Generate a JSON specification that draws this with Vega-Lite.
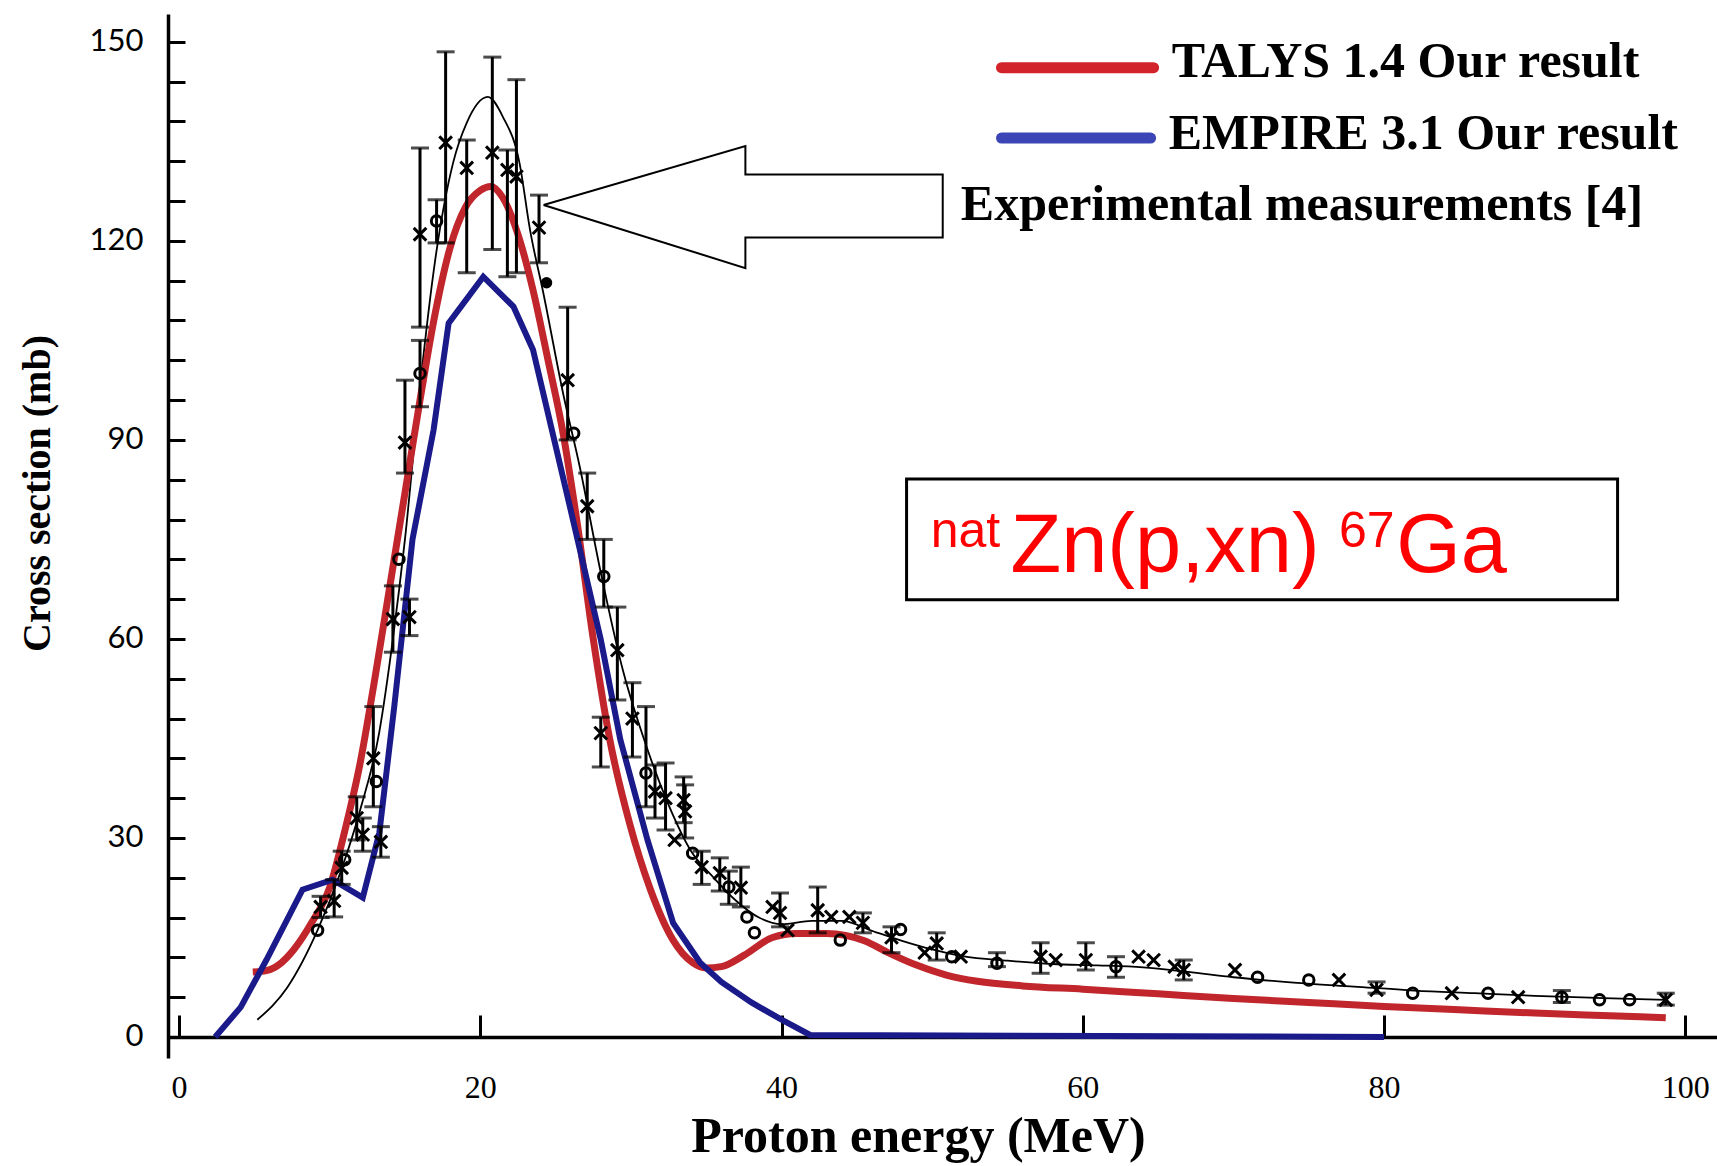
{
  "$schema": "https://vega.github.io/schema/vega-lite/v6.json",
  "width": 1549,
  "height": 1044,
  "autosize": {"type": "none"},
  "padding": {"left": 168, "top": 14, "right": 0, "bottom": 108},
  "background": "white",
  "config": {"view": {"stroke": null}},
  "datasets": {
    "fit": [
      {"E": 5.2, "cs": 2.6}, {"E": 7.2, "cs": 7.5}, {"E": 9.2, "cs": 16.1}, {"E": 10.7, "cs": 24.7},
      {"E": 12.0, "cs": 34.0}, {"E": 13.3, "cs": 46.0}, {"E": 14.2, "cs": 60.0}, {"E": 15.0, "cs": 75.0},
      {"E": 16.0, "cs": 98.0}, {"E": 17.0, "cs": 117.0}, {"E": 18.2, "cs": 131.8}, {"E": 19.1, "cs": 137.8},
      {"E": 20.5, "cs": 141.7}, {"E": 21.5, "cs": 138.7}, {"E": 22.6, "cs": 131.8}, {"E": 23.3, "cs": 121.7},
      {"E": 24.2, "cs": 112.0}, {"E": 25.5, "cs": 97.0}, {"E": 26.6, "cs": 86.0}, {"E": 28.0, "cs": 70.0},
      {"E": 29.5, "cs": 55.0}, {"E": 31.0, "cs": 44.0}, {"E": 32.5, "cs": 35.0}, {"E": 34.0, "cs": 28.0},
      {"E": 35.5, "cs": 24.0}, {"E": 37.0, "cs": 20.5}, {"E": 38.5, "cs": 18.0}, {"E": 40.0, "cs": 17.0},
      {"E": 42.0, "cs": 17.5}, {"E": 44.0, "cs": 17.5}, {"E": 46.0, "cs": 16.0}, {"E": 48.0, "cs": 14.5},
      {"E": 50.0, "cs": 13.2}, {"E": 52.0, "cs": 12.2}, {"E": 55.0, "cs": 11.5}, {"E": 58.0, "cs": 11.0},
      {"E": 61.0, "cs": 10.8}, {"E": 64.0, "cs": 10.5}, {"E": 67.0, "cs": 9.8}, {"E": 70.0, "cs": 9.0},
      {"E": 74.0, "cs": 8.2}, {"E": 78.0, "cs": 7.6}, {"E": 82.0, "cs": 7.0}, {"E": 86.0, "cs": 6.6},
      {"E": 90.0, "cs": 6.2}, {"E": 94.0, "cs": 5.9}, {"E": 98.7, "cs": 5.6}
    ],
    "talys": [
      {"E": 4.9, "cs": 9.8}, {"E": 5.8, "cs": 10.0}, {"E": 6.8, "cs": 11.2}, {"E": 7.6, "cs": 13.1},
      {"E": 8.8, "cs": 17.2}, {"E": 10.0, "cs": 22.5}, {"E": 11.0, "cs": 31.0}, {"E": 12.0, "cs": 41.0},
      {"E": 13.0, "cs": 54.0}, {"E": 14.0, "cs": 68.0}, {"E": 15.0, "cs": 82.0}, {"E": 16.0, "cs": 96.0},
      {"E": 17.0, "cs": 109.0}, {"E": 18.0, "cs": 119.0}, {"E": 19.0, "cs": 125.0}, {"E": 20.0, "cs": 127.6},
      {"E": 20.7, "cs": 128.2}, {"E": 21.5, "cs": 126.5}, {"E": 22.5, "cs": 121.0}, {"E": 23.5, "cs": 112.6},
      {"E": 24.5, "cs": 102.0}, {"E": 25.5, "cs": 91.0}, {"E": 26.4, "cs": 78.0}, {"E": 27.5, "cs": 60.0},
      {"E": 28.6, "cs": 44.8}, {"E": 29.9, "cs": 32.3}, {"E": 31.3, "cs": 22.2}, {"E": 32.8, "cs": 14.6},
      {"E": 34.1, "cs": 11.2}, {"E": 35.0, "cs": 10.4}, {"E": 36.0, "cs": 10.6}, {"E": 37.5, "cs": 12.3},
      {"E": 39.4, "cs": 15.0}, {"E": 41.0, "cs": 15.6}, {"E": 43.0, "cs": 15.6}, {"E": 45.5, "cs": 14.5},
      {"E": 47.0, "cs": 12.8}, {"E": 49.0, "cs": 10.8}, {"E": 51.0, "cs": 9.3}, {"E": 53.0, "cs": 8.4},
      {"E": 56.0, "cs": 7.7}, {"E": 60.0, "cs": 7.2}, {"E": 65.0, "cs": 6.5}, {"E": 70.0, "cs": 5.8},
      {"E": 75.0, "cs": 5.2}, {"E": 80.0, "cs": 4.6}, {"E": 85.0, "cs": 4.1}, {"E": 90.0, "cs": 3.6},
      {"E": 95.0, "cs": 3.2}, {"E": 98.7, "cs": 2.9}
    ],
    "empire": [
      {"E": 2.4, "cs": 0.0}, {"E": 4.1, "cs": 4.5}, {"E": 5.8, "cs": 11.6}, {"E": 8.2, "cs": 22.2},
      {"E": 10.2, "cs": 23.7}, {"E": 12.2, "cs": 21.0}, {"E": 13.3, "cs": 30.8}, {"E": 14.3, "cs": 50.0},
      {"E": 15.5, "cs": 75.0}, {"E": 16.9, "cs": 91.5}, {"E": 17.9, "cs": 107.6}, {"E": 20.2, "cs": 114.6},
      {"E": 22.2, "cs": 110.1}, {"E": 23.5, "cs": 103.6}, {"E": 25.8, "cs": 81.4}, {"E": 28.0, "cs": 59.9},
      {"E": 29.3, "cs": 44.8}, {"E": 31.1, "cs": 29.7}, {"E": 32.8, "cs": 17.2}, {"E": 34.6, "cs": 11.2},
      {"E": 36.0, "cs": 8.3}, {"E": 38.0, "cs": 5.2}, {"E": 40.0, "cs": 2.6}, {"E": 41.9, "cs": 0.3},
      {"E": 80.0, "cs": 0.0}
    ],
    "exp": [
      {"E": 9.2, "cs": 16.1, "sym": "o"},
      {"E": 9.4, "cs": 19.6, "lo": 18.0, "hi": 21.2, "sym": "x"},
      {"E": 10.3, "cs": 20.5, "lo": 18.1, "hi": 23.7, "sym": "x"},
      {"E": 10.8, "cs": 25.5, "lo": 23.0, "hi": 28.0, "sym": "x"},
      {"E": 11.0, "cs": 26.7, "sym": "o"},
      {"E": 11.8, "cs": 33.0, "lo": 29.7, "hi": 36.2, "sym": "x"},
      {"E": 12.2, "cs": 30.5, "lo": 28.0, "hi": 33.0, "sym": "x"},
      {"E": 12.9, "cs": 42.0, "lo": 34.7, "hi": 49.8, "sym": "x"},
      {"E": 13.4, "cs": 29.4, "lo": 27.1, "hi": 31.7, "sym": "x"},
      {"E": 13.1, "cs": 38.5, "sym": "o"},
      {"E": 14.2, "cs": 63.0, "lo": 58.0, "hi": 68.0, "sym": "x"},
      {"E": 15.3, "cs": 63.3, "lo": 60.5, "hi": 66.0, "sym": "x"},
      {"E": 14.6, "cs": 72.0, "sym": "o"},
      {"E": 15.0, "cs": 89.6, "lo": 85.0, "hi": 99.0, "sym": "x"},
      {"E": 16.0, "cs": 100.0, "lo": 95.0, "hi": 105.0, "sym": "o"},
      {"E": 16.0, "cs": 121.0, "lo": 107.0, "hi": 134.0, "sym": "x"},
      {"E": 17.1, "cs": 123.0, "lo": 119.7, "hi": 126.2, "sym": "o"},
      {"E": 17.7, "cs": 134.8, "lo": 119.7, "hi": 148.5, "sym": "x"},
      {"E": 19.1, "cs": 131.0, "lo": 115.2, "hi": 135.2, "sym": "x"},
      {"E": 20.8, "cs": 133.3, "lo": 118.7, "hi": 147.7, "sym": "x"},
      {"E": 21.8, "cs": 130.7, "lo": 114.6, "hi": 133.7, "sym": "x"},
      {"E": 22.4, "cs": 129.7, "lo": 115.2, "hi": 144.3, "sym": "x"},
      {"E": 23.9, "cs": 122.0, "lo": 116.7, "hi": 126.9, "sym": "x"},
      {"E": 24.4, "cs": 113.7, "sym": "dot"},
      {"E": 25.8, "cs": 99.0, "lo": 90.0, "hi": 110.0, "sym": "x"},
      {"E": 26.2, "cs": 91.0, "sym": "o"},
      {"E": 27.1, "cs": 80.0, "lo": 75.0, "hi": 85.0, "sym": "x"},
      {"E": 28.2, "cs": 69.4, "lo": 64.8, "hi": 75.0, "sym": "o"},
      {"E": 29.1, "cs": 58.3, "lo": 50.8, "hi": 64.8, "sym": "x"},
      {"E": 28.0, "cs": 45.8, "lo": 40.7, "hi": 48.2, "sym": "x"},
      {"E": 30.1, "cs": 48.0, "lo": 42.2, "hi": 53.4, "sym": "x"},
      {"E": 31.0, "cs": 39.8, "lo": 34.7, "hi": 49.8, "sym": "o"},
      {"E": 31.6, "cs": 37.0, "lo": 33.0, "hi": 41.0, "sym": "x"},
      {"E": 32.3, "cs": 36.0, "lo": 31.2, "hi": 41.3, "sym": "x"},
      {"E": 32.9, "cs": 29.7, "sym": "x"},
      {"E": 33.5, "cs": 35.7, "lo": 32.3, "hi": 39.2, "sym": "x"},
      {"E": 33.6, "cs": 34.0, "lo": 30.0, "hi": 38.0, "sym": "x"},
      {"E": 34.1, "cs": 27.7, "sym": "o"},
      {"E": 34.7, "cs": 25.6, "lo": 23.0, "hi": 28.0, "sym": "x"},
      {"E": 35.9, "cs": 24.7, "lo": 22.0, "hi": 27.0, "sym": "x"},
      {"E": 36.5, "cs": 22.6, "lo": 20.0, "hi": 25.0, "sym": "o"},
      {"E": 37.3, "cs": 22.5, "lo": 19.6, "hi": 25.6, "sym": "x"},
      {"E": 37.7, "cs": 18.1, "sym": "o"},
      {"E": 38.2, "cs": 15.7, "sym": "o"},
      {"E": 39.4, "cs": 19.6, "sym": "x"},
      {"E": 39.9, "cs": 18.7, "lo": 16.6, "hi": 21.7, "sym": "x"},
      {"E": 40.4, "cs": 16.1, "sym": "dash"},
      {"E": 42.4, "cs": 19.1, "lo": 15.7, "hi": 22.6, "sym": "x"},
      {"E": 43.3, "cs": 18.1, "sym": "x"},
      {"E": 43.9, "cs": 14.6, "sym": "o"},
      {"E": 44.5, "cs": 18.1, "sym": "x"},
      {"E": 45.4, "cs": 17.2, "lo": 15.7, "hi": 18.7, "sym": "x"},
      {"E": 47.3, "cs": 15.0, "lo": 12.7, "hi": 16.6, "sym": "x"},
      {"E": 47.9, "cs": 16.2, "sym": "o"},
      {"E": 49.5, "cs": 12.7, "sym": "x"},
      {"E": 50.3, "cs": 14.1, "lo": 11.6, "hi": 15.7, "sym": "x"},
      {"E": 51.3, "cs": 12.1, "sym": "o"},
      {"E": 51.9, "cs": 12.1, "sym": "x"},
      {"E": 54.3, "cs": 11.1, "lo": 10.6, "hi": 12.7, "sym": "o"},
      {"E": 57.2, "cs": 12.1, "lo": 9.6, "hi": 14.2, "sym": "x"},
      {"E": 58.2, "cs": 11.6, "sym": "x"},
      {"E": 60.2, "cs": 11.6, "lo": 10.1, "hi": 14.2, "sym": "x"},
      {"E": 62.2, "cs": 10.6, "lo": 9.0, "hi": 12.1, "sym": "o"},
      {"E": 63.7, "cs": 12.1, "sym": "x"},
      {"E": 64.7, "cs": 11.6, "sym": "x"},
      {"E": 66.1, "cs": 10.6, "sym": "x"},
      {"E": 66.7, "cs": 10.1, "lo": 8.6, "hi": 11.6, "sym": "x"},
      {"E": 70.1, "cs": 10.1, "sym": "x"},
      {"E": 71.6, "cs": 9.0, "sym": "o"},
      {"E": 75.0, "cs": 8.6, "sym": "o"},
      {"E": 77.0, "cs": 8.6, "sym": "x"},
      {"E": 79.5, "cs": 7.1, "lo": 6.6, "hi": 8.3, "sym": "x"},
      {"E": 81.9, "cs": 6.6, "sym": "o"},
      {"E": 84.5, "cs": 6.6, "sym": "x"},
      {"E": 86.9, "cs": 6.6, "sym": "o"},
      {"E": 88.9, "cs": 6.0, "sym": "x"},
      {"E": 91.8, "cs": 6.0, "lo": 5.2, "hi": 7.0, "sym": "o"},
      {"E": 94.3, "cs": 5.6, "sym": "o"},
      {"E": 96.3, "cs": 5.6, "sym": "o"},
      {"E": 98.7, "cs": 5.6, "lo": 4.8, "hi": 6.6, "sym": "x"}
    ],
    "arrow": [
      {"o": 1, "E": 24.2, "cs": 125.4}, {"o": 2, "E": 37.6, "cs": 134.3}, {"o": 3, "E": 37.6, "cs": 130.0},
      {"o": 4, "E": 50.7, "cs": 130.0}, {"o": 5, "E": 50.7, "cs": 120.5}, {"o": 6, "E": 37.6, "cs": 120.5},
      {"o": 7, "E": 37.6, "cs": 115.9}, {"o": 8, "E": 24.2, "cs": 125.4}
    ],
    "legendSwatch": [
      {"E": 54.6, "E2": 64.7, "cs": 146.1, "series": "TALYS 1.4 Our result"},
      {"E": 54.6, "E2": 64.5, "cs": 135.5, "series": "EMPIRE 3.1 Our result"}
    ],
    "legendText": [
      {"E": 65.9, "cs": 147.0, "t": "TALYS 1.4 Our result"},
      {"E": 65.7, "cs": 136.1, "t": "EMPIRE 3.1 Our result"},
      {"E": 51.9, "cs": 125.4, "t": "Experimental measurements [4]"}
    ],
    "box": [{"E": 48.3, "E2": 95.5, "cs": 65.9, "cs2": 84.1}],
    "boxBig": [
      {"E": 55.2, "cs": 70.1, "t": "Zn(p,xn)"},
      {"E": 80.8, "cs": 70.1, "t": "Ga"}
    ],
    "boxSmall": [
      {"E": 49.9, "cs": 73.9, "t": "nat"},
      {"E": 77.0, "cs": 73.9, "t": "67"}
    ]
  },
  "layer": [
    {
      "data": {"name": "fit"},
      "mark": {"type": "line", "color": "black", "strokeWidth": 1.8, "interpolate": "monotone"},
      "encoding": {
        "x": {
          "field": "E", "type": "quantitative", "title": "Proton energy (MeV)",
          "scale": {"domain": [-0.73, 102.1], "nice": false, "zero": false},
          "axis": {
            "title": "Proton energy (MeV)", "values": [0, 20, 40, 60, 80, 100], "grid": false, "offset": -21,
            "tickSize": -22, "tickWidth": 3, "tickColor": "black", "domainColor": "black", "domainWidth": 3.5,
            "labelFont": "Liberation Serif", "labelFontSize": 32, "labelColor": "black", "labelPadding": 57,
            "labelFlush": false, "labelOverlap": false,
            "titleFont": "Liberation Serif", "titleFontSize": 50, "titleFontWeight": "bold", "titleColor": "black",
            "titlePadding": 8, "titleX": 750
          }
        },
        "y": {
          "field": "cs", "type": "quantitative", "title": "Cross section (mb)",
          "scale": {"domain": [-3.17, 154.2], "nice": false, "zero": false},
          "axis": {
            "title": "Cross section (mb)",
            "values": [0, 6, 12, 18, 24, 30, 36, 42, 48, 54, 60, 66, 72, 78, 84, 90, 96, 102, 108, 114, 120, 126, 132, 138, 144, 150],
            "labelExpr": "datum.value % 30 === 0 ? datum.label : ''",
            "grid": false, "tickSize": -17, "tickWidth": 3, "tickColor": "black", "domainColor": "black", "domainWidth": 3.5,
            "labelFont": "Lato", "labelFontSize": 31, "labelColor": "black", "labelPadding": 42,
            "labelFlush": false, "labelOverlap": false,
            "titleFont": "Liberation Serif", "titleFontSize": 40, "titleFontWeight": "bold", "titleColor": "black",
            "titlePadding": 32, "titleY": 479
          }
        }
      }
    },
    {
      "data": {"name": "talys"},
      "mark": {"type": "line", "color": "#c0262b", "strokeWidth": 7, "interpolate": "monotone"},
      "encoding": {
        "x": {"field": "E", "type": "quantitative", "title": "Proton energy (MeV)", "scale": {"domain": [-0.73, 102.1], "nice": false, "zero": false}},
        "y": {"field": "cs", "type": "quantitative", "title": "Cross section (mb)", "scale": {"domain": [-3.17, 154.2], "nice": false, "zero": false}}
      }
    },
    {
      "data": {"name": "empire"},
      "mark": {"type": "line", "color": "#1a1a8a", "strokeWidth": 6, "interpolate": "linear"},
      "encoding": {
        "x": {"field": "E", "type": "quantitative", "title": "Proton energy (MeV)", "scale": {"domain": [-0.73, 102.1], "nice": false, "zero": false}},
        "y": {"field": "cs", "type": "quantitative", "title": "Cross section (mb)", "scale": {"domain": [-3.17, 154.2], "nice": false, "zero": false}}
      }
    },
    {
      "data": {"name": "exp"},
      "transform": [{"filter": "isValid(datum.lo)"}],
      "mark": {"type": "rule", "color": "black", "strokeWidth": 3},
      "encoding": {
        "x": {"field": "E", "type": "quantitative", "title": "Proton energy (MeV)", "scale": {"domain": [-0.73, 102.1], "nice": false, "zero": false}},
        "y": {"field": "lo", "type": "quantitative", "title": "Cross section (mb)", "scale": {"domain": [-3.17, 154.2], "nice": false, "zero": false}},
        "y2": {"field": "hi"}
      }
    },
    {
      "data": {"name": "exp"},
      "transform": [{"filter": "isValid(datum.lo)"}],
      "mark": {"type": "tick", "color": "black", "orient": "horizontal", "size": 18, "thickness": 3},
      "encoding": {
        "x": {"field": "E", "type": "quantitative", "title": "Proton energy (MeV)", "scale": {"domain": [-0.73, 102.1], "nice": false, "zero": false}},
        "y": {"field": "lo", "type": "quantitative", "title": "Cross section (mb)", "scale": {"domain": [-3.17, 154.2], "nice": false, "zero": false}}
      }
    },
    {
      "data": {"name": "exp"},
      "transform": [{"filter": "isValid(datum.hi)"}],
      "mark": {"type": "tick", "color": "black", "orient": "horizontal", "size": 18, "thickness": 3},
      "encoding": {
        "x": {"field": "E", "type": "quantitative", "title": "Proton energy (MeV)", "scale": {"domain": [-0.73, 102.1], "nice": false, "zero": false}},
        "y": {"field": "hi", "type": "quantitative", "title": "Cross section (mb)", "scale": {"domain": [-3.17, 154.2], "nice": false, "zero": false}}
      }
    },
    {
      "data": {"name": "exp"},
      "transform": [{"filter": "datum.sym === 'x' || datum.sym === 'dash'"}],
      "mark": {"type": "point", "shape": "M-1,-1L1,1M-1,1L1,-1", "filled": false, "stroke": "black", "strokeWidth": 3, "size": 160, "opacity": 1},
      "encoding": {
        "x": {"field": "E", "type": "quantitative", "title": "Proton energy (MeV)", "scale": {"domain": [-0.73, 102.1], "nice": false, "zero": false}},
        "y": {"field": "cs", "type": "quantitative", "title": "Cross section (mb)", "scale": {"domain": [-3.17, 154.2], "nice": false, "zero": false}}
      }
    },
    {
      "data": {"name": "exp"},
      "transform": [{"filter": "datum.sym === 'o'"}],
      "mark": {"type": "point", "shape": "circle", "filled": false, "stroke": "black", "strokeWidth": 3, "size": 110, "opacity": 1},
      "encoding": {
        "x": {"field": "E", "type": "quantitative", "title": "Proton energy (MeV)", "scale": {"domain": [-0.73, 102.1], "nice": false, "zero": false}},
        "y": {"field": "cs", "type": "quantitative", "title": "Cross section (mb)", "scale": {"domain": [-3.17, 154.2], "nice": false, "zero": false}}
      }
    },
    {
      "data": {"name": "exp"},
      "transform": [{"filter": "datum.sym === 'dot'"}],
      "mark": {"type": "point", "shape": "circle", "filled": true, "color": "black", "size": 130, "opacity": 1},
      "encoding": {
        "x": {"field": "E", "type": "quantitative", "title": "Proton energy (MeV)", "scale": {"domain": [-0.73, 102.1], "nice": false, "zero": false}},
        "y": {"field": "cs", "type": "quantitative", "title": "Cross section (mb)", "scale": {"domain": [-3.17, 154.2], "nice": false, "zero": false}}
      }
    },
    {
      "data": {"name": "arrow"},
      "mark": {"type": "line", "color": "black", "strokeWidth": 2, "interpolate": "linear"},
      "encoding": {
        "x": {"field": "E", "type": "quantitative", "title": "Proton energy (MeV)", "scale": {"domain": [-0.73, 102.1], "nice": false, "zero": false}},
        "y": {"field": "cs", "type": "quantitative", "title": "Cross section (mb)", "scale": {"domain": [-3.17, 154.2], "nice": false, "zero": false}},
        "order": {"field": "o", "type": "quantitative"}
      }
    },
    {
      "data": {"name": "legendSwatch"},
      "mark": {"type": "rule", "strokeWidth": 11, "strokeCap": "round"},
      "encoding": {
        "x": {"field": "E", "type": "quantitative", "title": "Proton energy (MeV)", "scale": {"domain": [-0.73, 102.1], "nice": false, "zero": false}},
        "x2": {"field": "E2"},
        "y": {"field": "cs", "type": "quantitative", "title": "Cross section (mb)", "scale": {"domain": [-3.17, 154.2], "nice": false, "zero": false}},
        "color": {
          "field": "series", "type": "nominal", "legend": null,
          "scale": {"domain": ["TALYS 1.4 Our result", "EMPIRE 3.1 Our result"], "range": ["#d2232a", "#3b45b5"]}
        }
      }
    },
    {
      "data": {"name": "legendText"},
      "mark": {"type": "text", "align": "left", "baseline": "middle", "font": "Liberation Serif", "fontWeight": "bold", "fontSize": 50, "color": "black"},
      "encoding": {
        "x": {"field": "E", "type": "quantitative", "title": "Proton energy (MeV)", "scale": {"domain": [-0.73, 102.1], "nice": false, "zero": false}},
        "y": {"field": "cs", "type": "quantitative", "title": "Cross section (mb)", "scale": {"domain": [-3.17, 154.2], "nice": false, "zero": false}},
        "text": {"field": "t"}
      }
    },
    {
      "data": {"name": "box"},
      "mark": {"type": "rect", "fill": "white", "stroke": "black", "strokeWidth": 3},
      "encoding": {
        "x": {"field": "E", "type": "quantitative", "title": "Proton energy (MeV)", "scale": {"domain": [-0.73, 102.1], "nice": false, "zero": false}},
        "x2": {"field": "E2"},
        "y": {"field": "cs", "type": "quantitative", "title": "Cross section (mb)", "scale": {"domain": [-3.17, 154.2], "nice": false, "zero": false}},
        "y2": {"field": "cs2"}
      }
    },
    {
      "data": {"name": "boxBig"},
      "mark": {"type": "text", "align": "left", "baseline": "alphabetic", "font": "Liberation Sans", "fontSize": 83, "color": "#ff0000"},
      "encoding": {
        "x": {"field": "E", "type": "quantitative", "title": "Proton energy (MeV)", "scale": {"domain": [-0.73, 102.1], "nice": false, "zero": false}},
        "y": {"field": "cs", "type": "quantitative", "title": "Cross section (mb)", "scale": {"domain": [-3.17, 154.2], "nice": false, "zero": false}},
        "text": {"field": "t"}
      }
    },
    {
      "data": {"name": "boxSmall"},
      "mark": {"type": "text", "align": "left", "baseline": "alphabetic", "font": "Liberation Sans", "fontSize": 50, "color": "#ff0000"},
      "encoding": {
        "x": {"field": "E", "type": "quantitative", "title": "Proton energy (MeV)", "scale": {"domain": [-0.73, 102.1], "nice": false, "zero": false}},
        "y": {"field": "cs", "type": "quantitative", "title": "Cross section (mb)", "scale": {"domain": [-3.17, 154.2], "nice": false, "zero": false}},
        "text": {"field": "t"}
      }
    }
  ]
}
